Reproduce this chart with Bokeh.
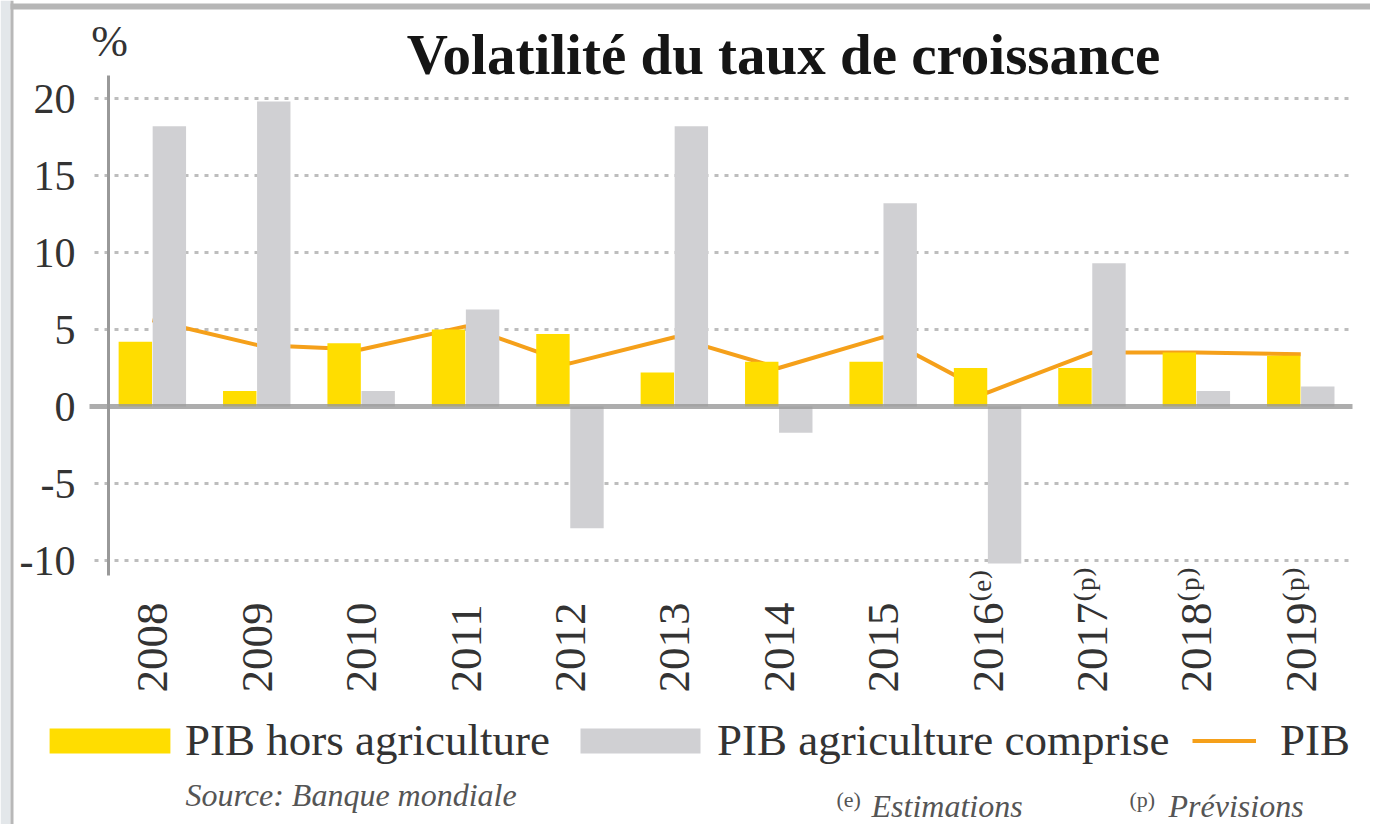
from math import pi
from bokeh.plotting import figure
from bokeh.models import (ColumnDataSource, Range1d, FixedTicker, Label,
                          Legend, LegendItem, LinearAxis, Grid, BoxAnnotation)
from bokeh.transform import dodge
from bokeh.embed import file_html
from bokeh.resources import INLINE

# ---- data ----
years = ["2008", "2009", "2010", "2011", "2012", "2013", "2014", "2015",
         "2016\u207d\u1d49\u207e", "2017\u207d\u1d56\u207e",
         "2018\u207d\u1d56\u207e", "2019\u207d\u1d56\u207e"]
pib_hors_agriculture = [4.2, 1.0, 4.1, 5.0, 4.7, 2.2, 2.9, 2.9, 2.5, 2.5, 3.5, 3.3]
pib_agriculture_comprise = [18.2, 19.8, 1.0, 6.3, -7.9, 18.2, -1.7, 13.2, -10.2, 9.3, 1.0, 1.3]
pib = [5.6, 4.0, 3.7, 5.2, 2.8, 4.5, 2.5, 4.5, 0.9, 3.5, 3.5, 3.4]
y_ticks = [-10, -5, 0, 5, 10, 15, 20]
y_tick_labels = ["-10", "-5", "0", "5", "10", "15", "20"]

x_idx = list(range(len(years)))
src = ColumnDataSource(dict(x=x_idx, hors=pib_hors_agriculture,
                            agri=pib_agriculture_comprise, pib=pib))

FONT = "Liberation Serif"
XFONT = "'Liberation Serif', 'DejaVu Serif'"
YELLOW = "#FFDD00"
GREY = "#D0D0D3"
ORANGE = "#F5A01A"
W, H = 1370, 824

# plot area: the whole canvas is the frame, axes placed at fixed locations
p = figure(width=W, height=H, x_range=Range1d(-1.4545, 11.668),
           y_range=Range1d(-(H - 406) / 15.4, 406 / 15.4), output_backend="svg",
           toolbar_location=None, title=None,
           x_axis_location=None, y_axis_location=None,
           min_border=0, min_border_left=0, min_border_right=0,
           min_border_top=0, min_border_bottom=0)
p.outline_line_color = None
p.background_fill_color = "white"
p.border_fill_color = "white"
# drop default grids
p.center = [r for r in p.center if not isinstance(r, Grid)]

# picture frame edges (left and top)
p.add_layout(BoxAnnotation(left=0, right=10, left_units="screen",
                           right_units="screen", fill_color="#e3e7ea",
                           fill_alpha=1, line_color=None, level="underlay"))
p.add_layout(BoxAnnotation(left=10, right=13, left_units="screen",
                           right_units="screen", fill_color="#b8b8b8",
                           fill_alpha=1, line_color=None, level="underlay"))
p.add_layout(BoxAnnotation(left=10, bottom=H - 9, top=H - 3, left_units="screen",
                           bottom_units="screen", top_units="screen",
                           fill_color="#b6b6b6", fill_alpha=1, line_color=None,
                           level="underlay"))

# grid (dotted)
p.add_layout(Grid(dimension=1, ticker=FixedTicker(ticks=[t for t in y_ticks if t != 0]),
                  cross_bounds=(-0.55, 11.5), grid_line_color="#bdbdbd",
                  grid_line_dash="4 6", grid_line_width=3))

# line (behind bars)
r_line = p.line("x", "pib", source=src, line_color=ORANGE, line_width=4,
                line_join="round")

r_hors = p.vbar(x=dodge("x", -0.163, range=p.x_range), top="hors", width=0.32,
                source=src, fill_color=YELLOW, line_color=None)
r_agri = p.vbar(x=dodge("x", 0.163, range=p.x_range), top="agri", width=0.32,
                source=src, fill_color=GREY, line_color=None)

# zero line over the bars
p.add_layout(Grid(dimension=1, ticker=FixedTicker(ticks=[0]), level="overlay",
                  cross_bounds=(-0.6, 11.5), grid_line_color="#999999",
                  grid_line_alpha=0.8, grid_line_width=5))

# y axis
yax = LinearAxis(fixed_location=-0.42, bounds=(-11, 21.5),
                 ticker=FixedTicker(ticks=y_ticks),
                 major_label_overrides={t: l for t, l in zip(y_ticks, y_tick_labels)},
                 major_label_text_font=FONT, major_label_text_font_size="42px",
                 major_label_text_color="#333333", major_tick_line_color=None,
                 minor_tick_line_color=None, axis_line_color="#999999",
                 axis_line_width=3, major_label_standoff=27)
p.add_layout(yax, "left")

# x axis (labels rotated, anchored at their start)
xax = LinearAxis(fixed_location=-19.09, ticker=FixedTicker(ticks=x_idx),
                 major_label_overrides={i: years[i] for i in x_idx},
                 major_label_orientation=pi / 2, major_label_text_font=XFONT,
                 major_label_text_font_size="45px",
                 major_label_text_color="#333333", major_tick_line_color=None,
                 minor_tick_line_color=None, axis_line_color=None,
                 major_label_standoff=2)
p.add_layout(xax, "above")

# title & unit
p.add_layout(Label(x=783, y=H - 54, x_units="screen", y_units="screen",
                   text="Volatilité du taux de croissance", text_align="center",
                   text_baseline="middle", text_font=FONT,
                   text_font_style="bold", text_font_size="57px",
                   text_color="#151515"))
p.add_layout(Label(x=109, y=H - 41, x_units="screen", y_units="screen", text="%",
                   text_align="center", text_baseline="middle", text_font=FONT,
                   text_font_size="44px", text_color="#333333"))

# legends (bar swatches are drawn inset by 10% of the glyph box)
def make_legend(label, rend, loc, gw, gh, standoff):
    return Legend(items=[LegendItem(label=label, renderers=[rend])],
                  location=loc, orientation="horizontal", glyph_width=gw,
                  glyph_height=gh, label_standoff=standoff, padding=0, margin=0,
                  border_line_color=None, background_fill_alpha=0,
                  label_text_font=FONT, label_text_font_size="45px",
                  label_text_color="#333333")

LEG_Y = H - 766
p.add_layout(make_legend("PIB hors agriculture", r_hors, (34, LEG_Y), 151, 31, 0))
p.add_layout(make_legend("PIB agriculture comprise", r_agri, (565, LEG_Y), 150, 31, 2))
p.add_layout(make_legend("PIB", r_line, (1192, LEG_Y), 64, 31, 24))

# notes
NOTE = "#555555"
p.add_layout(Label(x=185, y=H - 794, x_units="screen", y_units="screen",
                   text="Source: Banque mondiale", text_baseline="middle",
                   text_font=FONT, text_font_style="italic",
                   text_font_size="32px", text_color=NOTE))
p.add_layout(Label(x=836, y=H - 799, x_units="screen", y_units="screen",
                   text="(e)", text_baseline="middle", text_font=FONT,
                   text_font_size="22px", text_color=NOTE))
p.add_layout(Label(x=871, y=H - 805, x_units="screen", y_units="screen",
                   text="Estimations", text_baseline="middle", text_font=FONT,
                   text_font_style="italic", text_font_size="32px",
                   text_color=NOTE))
p.add_layout(Label(x=1129, y=H - 799, x_units="screen", y_units="screen",
                   text="(p)", text_baseline="middle", text_font=FONT,
                   text_font_size="22px", text_color=NOTE))
p.add_layout(Label(x=1168, y=H - 805, x_units="screen", y_units="screen",
                   text="Prévisions", text_baseline="middle", text_font=FONT,
                   text_font_style="italic", text_font_size="32px",
                   text_color=NOTE))

open("out.html", "w").write(file_html(p, INLINE))
